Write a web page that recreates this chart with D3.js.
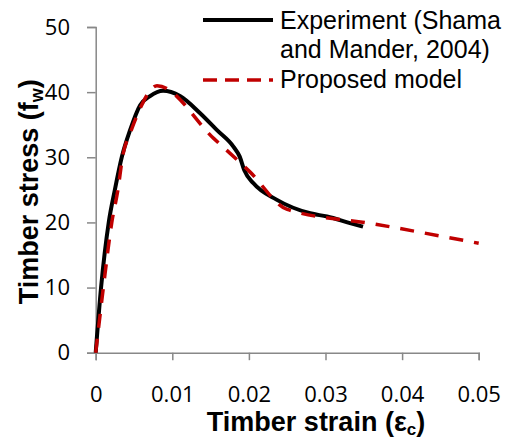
<!DOCTYPE html>
<html>
<head>
<meta charset="utf-8">
<script src="https://cdn.jsdelivr.net/npm/d3@7"></script>
<style>
  body { margin: 0; background: #ffffff; }
  svg { display: block; }
</style>
</head>
<body>
<div id="chart"></div>
<script>
// values
var expStrain = [0, 0.0007, 0.0017, 0.0025, 0.0034, 0.0045, 0.0058, 0.0071, 0.0088, 0.011, 0.0136, 0.0158, 0.018, 0.0188, 0.0194, 0.0206, 0.0236, 0.028, 0.0302, 0.0332, 0.0349];
var expStress = [0, 10, 20, 25, 30, 34.2, 38, 39.4, 40.2, 39.4, 36.8, 34.2, 31.6, 30.1, 28, 26, 23.5, 21.4, 20.9, 19.9, 19.35];
var modelStrain = [0, 0.001, 0.0021, 0.0029, 0.0035, 0.0046, 0.0058, 0.0069, 0.008, 0.0154, 0.0201, 0.025, 0.0362, 0.05];
var modelStress = [0, 10, 20, 25, 30, 34, 37.5, 39.9, 41, 32.9, 27.8, 22, 19.8, 16.8];
var xTicks = [0, 0.01, 0.02, 0.03, 0.04, 0.05];
var yTicks = [0, 10, 20, 30, 40, 50];
var legendLabels = [["Experiment (Shama", "and Mander, 2004)"], ["Proposed model"]];

var width = 509, height = 438;
var plotLeft = 95.7, plotRight = 478.7, plotTop = 27, plotBottom = 352.7;
var axisColor = '#888888';

var svg = d3.select('#chart').append('svg')
    .attr('width', width)
    .attr('height', height);

var x = d3.scaleLinear().domain([0, 0.05]).range([plotLeft, plotRight]);
var y = d3.scaleLinear().domain([0, 50]).range([plotBottom, plotTop]);

// axes
var xAxis = svg.append('g')
    .attr('transform', 'translate(0,' + plotBottom + ')')
    .call(d3.axisBottom(x).tickValues(xTicks).tickSize(7.5).tickPadding(26)
        .tickFormat(function (d) { return d === 0 ? '0' : d3.format('.2f')(d); }));
var yAxis = svg.append('g')
    .attr('transform', 'translate(' + plotLeft + ',0)')
    .call(d3.axisLeft(y).tickValues(yTicks).tickSize(8.7).tickPadding(17));

[xAxis, yAxis].forEach(function (g) {
    g.select('.domain').attr('stroke', axisColor).attr('stroke-width', 1.5);
    g.selectAll('.tick line').attr('stroke', axisColor).attr('stroke-width', 1.5);
    g.selectAll('.tick text')
        .attr('fill', '#000')
        .style('font-family', '"Open Sans", sans-serif')
        .style('font-size', '22px');
});

// curves
var line = d3.line()
    .x(function (d) { return x(d[0]); })
    .y(function (d) { return y(d[1]); })
    .curve(d3.curveMonotoneX);

var expData = expStrain.map(function (s, i) { return [s, expStress[i]]; });
var modelData = modelStrain.map(function (s, i) { return [s, modelStress[i]]; });

svg.append('path')
    .datum(expData)
    .attr('d', line)
    .attr('fill', 'none')
    .attr('stroke', '#000')
    .attr('stroke-width', 4)
    .attr('stroke-linejoin', 'round');

svg.append('path')
    .datum(modelData)
    .attr('d', line)
    .attr('fill', 'none')
    .attr('stroke', '#C00000')
    .attr('stroke-width', 3.5)
    .attr('stroke-dasharray', '14,11');

// legend
var legend = svg.append('g').style('font-family', '"Liberation Sans", Arial, sans-serif').style('font-size', '25px');
legend.append('line')
    .attr('x1', 203).attr('x2', 273).attr('y1', 20).attr('y2', 20)
    .attr('stroke', '#000').attr('stroke-width', 4);
legend.append('line')
    .attr('x1', 203).attr('x2', 273).attr('y1', 80).attr('y2', 80)
    .attr('stroke', '#C00000').attr('stroke-width', 3.5).attr('stroke-dasharray', '14,8');
var textRows = [[legendLabels[0][0], 29], [legendLabels[0][1], 58], [legendLabels[1][0], 88]];
textRows.forEach(function (r) {
    legend.append('text').attr('x', 280).attr('y', r[1]).text(r[0]);
});

// axis titles
var xTitle = svg.append('text')
    .attr('x', 316).attr('y', 431)
    .attr('text-anchor', 'middle')
    .style('font-family', '"Liberation Sans", Arial, sans-serif')
    .style('font-weight', 'bold')
    .style('font-size', '27px');
xTitle.append('tspan').text('Timber strain (\u03b5');
xTitle.append('tspan').attr('dy', 4).style('font-size', '17px').text('c');
xTitle.append('tspan').attr('dy', -4).text(')');

var yTitle = svg.append('text')
    .attr('transform', 'translate(38,191.7) rotate(-90)')
    .attr('text-anchor', 'middle')
    .style('font-family', '"Liberation Sans", Arial, sans-serif')
    .style('font-weight', 'bold')
    .style('font-size', '27px');
yTitle.append('tspan').text('Timber stress (f');
yTitle.append('tspan').attr('dy', 5).style('font-size', '18px').text('w');
yTitle.append('tspan').attr('dy', -5).text(')');
</script>
</body>
</html>
